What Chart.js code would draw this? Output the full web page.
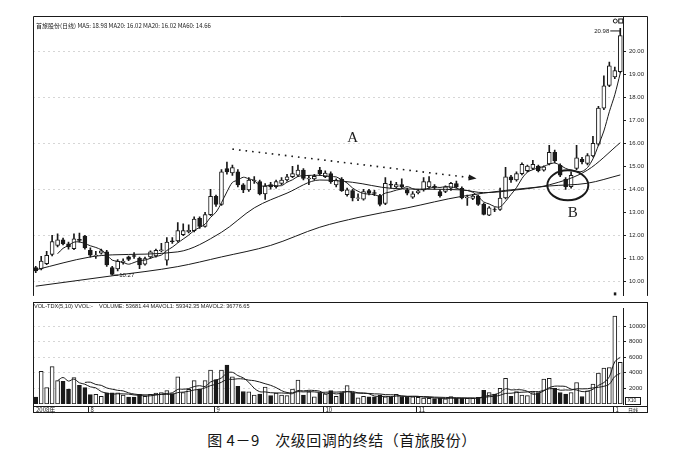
<!DOCTYPE html>
<html><head><meta charset="utf-8">
<script src="https://cdn.jsdelivr.net/npm/chart.js@4.4.0/dist/chart.umd.min.js"></script>
<style>
html,body{margin:0;padding:0;background:#fff;width:679px;height:458px;overflow:hidden;}
#wrap{position:relative;width:679px;height:458px;background:#fff;}
#pc{position:absolute;left:0;top:0;}
#vc{position:absolute;left:0;top:302px;}
#cap{position:absolute;left:0;top:429px;width:684px;text-align:center;font-family:"Noto Sans CJK SC",sans-serif;font-size:15px;color:#151515;letter-spacing:0.5px;}
</style></head>
<body><div id="wrap">
<canvas id="pc" width="679" height="302"></canvas>
<canvas id="vc" width="679" height="112"></canvas>
<div id="cap">图 4－9　次级回调的终结（首旅股份）</div>
</div>
<script>
// ---------- data ----------
const opens  = [10.60,10.54,10.77,11.17,11.56,11.80,11.63,11.42,11.82,11.96,11.35,11.12,11.22,11.28,10.60,10.54,10.82,11.06,11.12,11.00,10.75,11.06,11.10,11.33,10.92,11.76,11.75,12.03,12.15,12.20,12.74,12.38,12.90,13.69,13.34,14.90,14.71,14.75,14.19,13.97,14.36,14.33,13.80,14.20,14.11,14.25,14.40,14.54,14.61,14.83,14.45,14.45,14.83,14.55,14.68,14.19,14.43,13.76,13.94,13.60,13.57,13.94,13.85,13.72,13.38,14.22,14.10,14.20,13.97,13.66,13.85,13.97,14.10,14.12,13.90,13.90,14.04,14.25,14.04,13.62,13.60,13.69,13.34,12.87,13.12,13.12,13.62,14.54,14.40,14.68,14.80,14.90,15.00,14.83,15.10,15.60,15.04,14.43,14.11,14.90,15.30,15.12,15.45,15.96,17.52,18.51,18.87,19.10];
const closes = [10.45,10.88,11.13,11.73,11.80,11.63,11.50,11.85,11.78,11.45,11.14,11.14,11.32,10.71,10.30,10.88,10.88,10.95,11.08,10.71,10.99,11.28,11.35,11.37,11.70,11.72,12.20,12.20,12.22,12.70,12.38,12.90,13.69,13.34,14.75,14.75,14.94,14.19,13.97,14.40,14.40,13.80,14.14,14.10,14.33,14.40,14.54,14.68,14.83,14.47,14.48,14.56,14.68,14.70,14.33,14.40,13.94,13.97,13.62,13.63,13.90,13.83,13.82,13.34,14.26,14.18,14.20,14.10,13.83,13.80,13.92,14.33,14.33,14.08,13.72,14.10,14.26,14.10,13.62,13.66,13.70,13.34,12.91,13.19,13.10,13.62,14.54,14.40,14.68,15.08,15.00,15.08,14.80,14.97,15.60,15.23,14.61,14.11,14.60,15.36,15.18,15.46,15.99,17.52,18.49,19.36,19.15,20.67];
const highs  = [10.65,11.09,11.30,12.00,12.06,11.88,11.70,12.06,12.10,12.00,11.45,11.30,11.40,11.35,10.65,10.95,10.98,11.10,11.25,11.05,11.05,11.32,11.40,11.65,11.90,11.90,12.55,12.50,12.45,12.80,12.80,13.00,14.00,13.75,14.85,15.18,15.05,14.85,14.25,14.50,14.55,14.40,14.25,14.30,14.40,14.50,14.65,14.99,15.05,14.90,14.60,14.65,14.95,14.80,14.75,14.45,14.50,14.05,14.00,13.80,14.00,14.00,13.95,13.78,14.50,14.35,14.30,14.45,14.05,13.90,14.00,14.50,14.55,14.20,13.98,14.15,14.30,14.35,14.10,13.75,13.78,13.75,13.40,13.25,13.20,14.05,14.95,14.60,14.75,15.15,15.05,15.25,15.05,15.02,15.90,15.70,15.10,14.50,14.75,15.90,15.38,15.55,16.30,17.60,18.92,19.52,19.30,20.98];
const lows   = [10.38,10.50,10.72,11.10,11.50,11.58,11.40,11.38,11.70,11.40,11.05,11.00,11.18,10.65,10.27,10.45,10.75,10.90,11.00,10.55,10.70,11.00,11.05,11.28,10.70,11.65,11.70,11.98,12.10,12.15,12.30,12.35,12.85,13.25,13.30,14.65,14.60,14.10,13.85,13.90,14.25,13.75,13.56,14.00,14.05,14.20,14.35,14.50,14.55,14.40,14.20,14.40,14.60,14.50,14.25,14.10,13.90,13.70,13.49,13.50,13.52,13.75,13.72,13.28,13.33,14.05,14.05,14.05,13.75,13.60,13.80,13.92,14.05,14.00,13.65,13.85,13.95,14.05,13.58,13.30,13.55,13.30,12.88,12.85,13.02,13.08,13.58,14.30,14.35,14.62,14.75,14.85,14.75,14.78,15.05,15.15,14.55,13.99,14.05,14.85,15.10,15.05,15.40,15.90,17.45,18.45,18.80,19.05];
const volumes = [880,4200,2100,4800,3000,2900,1900,3400,2400,2100,1200,1240,1000,1440,1440,1440,1160,880,880,1240,1000,1240,1400,1450,1720,1350,3480,1480,1880,3000,1880,3000,4360,3120,4360,5000,3480,2280,1600,1560,1160,1280,2160,1080,1400,1160,1080,1920,3080,1160,1560,920,1480,1320,1720,1000,1480,2360,1480,800,1000,920,920,1160,920,840,1240,960,960,920,840,760,720,680,720,650,960,760,720,720,720,840,1760,1480,1280,2000,3280,1000,1600,1160,1080,1480,1480,3200,3280,2000,1480,1280,1480,2760,960,1680,2560,3970,4600,4680,11280,5360];
// MA20 / MA60 lines read at sample bars (they need history before the first bar)
const ma20Idx = [0,10,14,26,34,40,46,52,58,65,72,78,82,88,94,101,107];
const ma20Val = [10.50,11.06,11.15,11.28,12.13,13.19,13.83,14.40,14.30,14.04,14.00,13.97,13.85,13.97,14.19,14.83,16.02];
const ma60Idx = [0,14,26,34,43,52,59,68,78,94,101,107];
const ma60Val = [9.79,10.24,10.64,11.06,11.56,12.35,12.77,13.19,13.69,14.14,14.26,14.62];
const priceTicks = [10,11,12,13,14,15,16,17,18,19,20];
const volTicks = [2000,4000,6000,8000,10000];
const monthLabels = ["2008年","8","9","10","11","1"];
const monthIdx = [0,10,33,53,70,106];
const priceLegend = "首旅股份(日线) MA5: 18.98 MA20: 16.02 MA20: 16.02 MA60: 14.66";
const volLegend = "VOL-TDX(5,10) VVOL:-    VOLUME: 53681.44 MAVOL1: 59342.35 MAVOL2: 36776.65";

// ---------- derived ----------
const N = closes.length;
const labels = closes.map((_, i) => String(i));
const isUp = closes.map((c, i) => c >= opens[i]);
function sma(arr, n) {
  return arr.map((_, i) => i < n - 1 ? null : arr.slice(i - n + 1, i + 1).reduce((a, b) => a + b, 0) / n);
}
function sparse(idx, val) {
  const out = new Array(N).fill(null);
  idx.forEach((k, j) => out[k] = val[j]);
  return out;
}
const INK = '#1a1a1a';
const GRID = '#d6d6d6';
const NUMFONT = '"Liberation Sans", Arial, sans-serif';
const CJK = '"Noto Sans CJK SC", "Liberation Sans", sans-serif';
const RIGHT_AXIS_W = 25;

// annotation anchors (bar index, price)
const arrowFrom = {i: 36, p: 15.74};
const arrowTo = {i: 80.7, p: 14.47};
const labelA = {i: 58, p: 16.22};
const labelB = {i: 98.3, p: 12.95};
const ring = {i: 97.4, p: 14.17, rx: 20.5, ry: 15};

const lineDs = (data, extra) => Object.assign({
  type: 'line', data, borderColor: INK, borderWidth: 1, pointRadius: 0,
  spanGaps: true, cubicInterpolationMode: 'monotone', order: 0
}, extra || {});

const pricePlugin = {
  id: 'priceDeco',
  afterDraw(chart) {
    const {ctx, chartArea: a, scales: {x, y}} = chart;
    const R = y.right;
    ctx.save();
    ctx.strokeStyle = INK; ctx.lineWidth = 1;
    // frame
    ctx.beginPath();
    ctx.moveTo(a.left + 0.5, a.bottom + 0.5); ctx.lineTo(a.left + 0.5, a.top + 0.5);
    ctx.lineTo(R - 0.5, a.top + 0.5); ctx.lineTo(R - 0.5, a.bottom + 0.5);
    ctx.stroke();
    // legend
    ctx.fillStyle = INK; ctx.font = '6px ' + CJK; ctx.textBaseline = 'middle'; ctx.textAlign = 'left';
    ctx.fillText(priceLegend, a.left + 3, a.top + 10);
    // max / min labels
    const hi = highs.indexOf(Math.max(...highs));
    const lo = lows.indexOf(Math.min(...lows));
    ctx.font = '6px ' + NUMFONT;
    const hx = x.getPixelForValue(hi), hy = y.getPixelForValue(highs[hi]);
    ctx.beginPath(); ctx.moveTo(hx - 10, hy + 2.5); ctx.lineTo(hx, hy + 2.5); ctx.lineTo(hx, hy + 5); ctx.stroke();
    ctx.textAlign = 'right'; ctx.fillText(highs[hi].toFixed(2), hx - 11, hy + 2.5);
    const lx = x.getPixelForValue(lo), ly = y.getPixelForValue(lows[lo]);
    ctx.beginPath(); ctx.moveTo(lx + 2, ly); ctx.lineTo(lx + 6, ly); ctx.stroke();
    ctx.textAlign = 'left'; ctx.fillText(lows[lo].toFixed(2), lx + 7, ly);
    // small markers near the last bars
    ctx.beginPath(); ctx.arc(hx - 5, a.top + 5, 2, 0, Math.PI * 2); ctx.stroke();
    ctx.strokeRect(hx - 1.5, a.top + 3, 4, 4);
    ctx.fillRect(x.getPixelForValue(N - 2) - 1, a.bottom - 3, 2.5, 3);
    // dotted arrow
    const x1 = x.getPixelForValue(arrowFrom.i), y1 = y.getPixelForValue(arrowFrom.p);
    const x2 = x.getPixelForValue(arrowTo.i), y2 = y.getPixelForValue(arrowTo.p);
    const ang = Math.atan2(y2 - y1, x2 - x1);
    ctx.save();
    ctx.lineWidth = 1.6; ctx.setLineDash([1.6, 5]);
    ctx.beginPath(); ctx.moveTo(x1, y1); ctx.lineTo(x2 - 7 * Math.cos(ang), y2 - 7 * Math.sin(ang)); ctx.stroke();
    ctx.restore();
    ctx.beginPath();
    ctx.moveTo(x2, y2);
    ctx.lineTo(x2 - 8 * Math.cos(ang) + 3 * Math.sin(ang), y2 - 8 * Math.sin(ang) - 3 * Math.cos(ang));
    ctx.lineTo(x2 - 8 * Math.cos(ang) - 3 * Math.sin(ang), y2 - 8 * Math.sin(ang) + 3 * Math.cos(ang));
    ctx.closePath(); ctx.fill();
    // A / B labels
    ctx.font = '15px "Liberation Serif", "DejaVu Serif", serif'; ctx.textAlign = 'center'; ctx.textBaseline = 'middle';
    ctx.fillText('A', x.getPixelForValue(labelA.i), y.getPixelForValue(labelA.p));
    ctx.fillText('B', x.getPixelForValue(labelB.i), y.getPixelForValue(labelB.p));
    // ellipse
    ctx.lineWidth = 2;
    ctx.beginPath();
    ctx.ellipse(x.getPixelForValue(ring.i), y.getPixelForValue(ring.p), ring.rx, ring.ry, 0, 0, Math.PI * 2);
    ctx.stroke();
    ctx.restore();
  }
};

new Chart(document.getElementById('pc'), {
  type: 'bar',
  data: {
    labels,
    datasets: [
      lineDs(sma(closes, 5), {tension: 0.3, cubicInterpolationMode: 'default'}),
      lineDs(sparse(ma20Idx, ma20Val)),
      lineDs(sparse(ma60Idx, ma60Val)),
      {data: opens.map((o, i) => [o, closes[i]]), backgroundColor: isUp.map(u => u ? '#fff' : INK),
       borderColor: INK, borderWidth: 1, borderSkipped: false, barThickness: 4, grouped: false, order: 1},
      {data: lows.map((l, i) => [l, highs[i]]), backgroundColor: INK, borderWidth: 0,
       barThickness: 1, grouped: false, order: 2}
    ]
  },
  options: {
    responsive: false, animation: false, events: [],
    layout: {padding: {left: 33, right: 31, top: 16, bottom: 1}},
    plugins: {legend: {display: false}, tooltip: {enabled: false}},
    scales: {
      x: {display: false, offset: true},
      y: {
        position: 'right', min: 9.39, max: 21.52,
        afterFit(s) { s.width = RIGHT_AXIS_W; },
        afterBuildTicks(s) { s.ticks = priceTicks.map(v => ({value: v})); },
        ticks: {font: {size: 6, family: NUMFONT}, color: '#222', padding: 3, callback: v => Number(v).toFixed(2)},
        grid: {color: c => (c.tick && c.tick.value % 2 === 0) ? GRID : 'rgba(0,0,0,0)',
               tickColor: '#222', tickLength: 3, lineWidth: 1},
        border: {display: true, color: INK, dash: [2, 3]}
      }
    }
  },
  plugins: [pricePlugin]
});

const volPlugin = {
  id: 'volDeco',
  afterDraw(chart) {
    const {ctx, chartArea: a, scales: {x, y}} = chart;
    const R = y.right, H = chart.height;
    ctx.save();
    ctx.strokeStyle = INK; ctx.fillStyle = INK; ctx.lineWidth = 1;
    // frame + date band
    ctx.strokeRect(a.left + 0.5, 0.5, R - a.left - 1, H - 2);
    ctx.beginPath(); ctx.moveTo(a.left, a.bottom + 2.5); ctx.lineTo(R, a.bottom + 2.5); ctx.stroke();
    // legend
    ctx.font = '5.6px ' + NUMFONT; ctx.textBaseline = 'middle'; ctx.textAlign = 'left';
    ctx.fillText(volLegend, a.left + 1, 4.5);
    // month labels
    ctx.font = '6px ' + CJK;
    const bandMid = (a.bottom + 2.5 + H - 1.5) / 2;
    monthIdx.forEach((k, j) => {
      const px = Math.round(x.getPixelForValue(k) - 2) + 0.5;
      if (j > 0) { ctx.beginPath(); ctx.moveTo(px, a.bottom + 2.5); ctx.lineTo(px, H - 1.5); ctx.stroke(); }
      ctx.fillText(monthLabels[j], j === 0 ? a.left + 3 : px + 2, bandMid + 0.5);
    });
    // unit box
    const bx = y.left + 2;
    ctx.strokeRect(bx + 0.5, a.bottom - 6.5, 15, 7);
    ctx.font = '5px ' + NUMFONT; ctx.fillText('X10', bx + 2.5, a.bottom - 3);
    ctx.font = '5px ' + CJK; ctx.fillText('日线', bx + 3, bandMid + 0.5);
    ctx.restore();
  }
};

new Chart(document.getElementById('vc'), {
  type: 'bar',
  data: {
    labels,
    datasets: [
      lineDs(sma(volumes, 5), {tension: 0.35, cubicInterpolationMode: 'default'}),
      lineDs(sma(volumes, 10), {tension: 0.35, cubicInterpolationMode: 'default'}),
      {data: volumes, backgroundColor: isUp.map(u => u ? '#fff' : INK), borderColor: INK,
       borderWidth: 1, borderSkipped: false, barThickness: 4, order: 1}
    ]
  },
  options: {
    responsive: false, animation: false, events: [],
    layout: {padding: {left: 33, right: 31, top: 0, bottom: 10}},
    plugins: {legend: {display: false}, tooltip: {enabled: false}},
    scales: {
      x: {display: false, offset: true},
      y: {
        position: 'right', min: 0, max: 12240,
        afterFit(s) { s.width = RIGHT_AXIS_W; },
        afterBuildTicks(s) { s.ticks = volTicks.map(v => ({value: v})); },
        ticks: {font: {size: 6, family: NUMFONT}, color: '#222', padding: 3, callback: v => String(v)},
        grid: {color: GRID, tickColor: '#222', tickLength: 3, lineWidth: 1},
        border: {display: true, color: INK, dash: [2, 3]}
      }
    }
  },
  plugins: [volPlugin]
});
</script>
</body></html>
